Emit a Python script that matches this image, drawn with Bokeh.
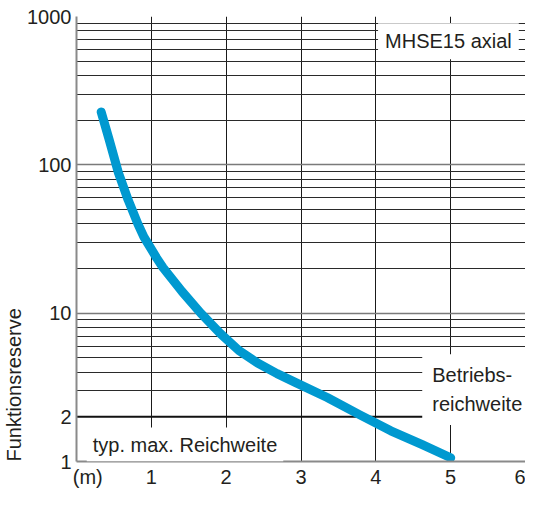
from bokeh.plotting import figure
from bokeh.models import FixedTicker, Label, Span, Title
from bokeh.embed import file_html
from bokeh.resources import INLINE

# ---- data ----
distance_m = [0.33, 0.435, 0.56, 0.69, 0.82, 0.90, 1.07, 1.155, 1.41, 1.66,
              1.92, 2.17, 2.42, 2.68, 2.93, 3.35, 3.78, 4.2, 4.62, 5.0]
funktionsreserve = [227, 149, 88.5, 58, 40, 32.7, 23.6, 20.3, 14.0, 10.0,
                    7.31, 5.6, 4.61, 3.91, 3.40, 2.70, 2.07, 1.61, 1.30, 1.06]

x_ticks = [0.15, 1, 2, 3, 4, 5, 6]          # first position carries the unit
x_tick_labels = ["(m)", "1", "2", "3", "4", "5", "6"]
x_grid = [1, 2, 3, 4, 5]
y_ticks = [1, 2, 10, 100, 1000]
y_tick_labels = ["1", "2", "10", "100", "1000"]
y_major_grid = [10, 100, 1000]
y_minor_grid = [3, 4, 5, 6, 7, 8, 9,
                20, 30, 40, 50, 60, 70, 80, 90,
                200, 300, 400, 500, 600, 700, 800, 900]
threshold = 2

FONT = "Liberation Sans"
TXT = "#231f20"

p = figure(width=525, height=490, x_range=(0, 6), y_range=(1, 1000),
           y_axis_type="log", output_backend="svg", toolbar_location=None,
           min_border_left=0, min_border_right=0, min_border_top=16,
           min_border_bottom=0)
p.outline_line_color = None
p.background_fill_color = "white"

# axes
for ax in (p.xaxis, p.yaxis):
    ax.axis_line_color = "#8a8a8a"
    ax.axis_line_width = 2
    ax.major_tick_line_color = None
    ax.minor_tick_line_color = None
    ax.major_tick_out = 0
    ax.major_tick_in = 0
    ax.major_label_text_font = FONT
    ax.major_label_text_font_size = "20px"
    ax.major_label_text_color = TXT

p.xaxis.ticker = FixedTicker(ticks=x_ticks)
p.xaxis.major_label_overrides = {t: l for t, l in zip(x_ticks, x_tick_labels)}
p.xaxis.major_label_standoff = 4
p.yaxis.ticker = FixedTicker(ticks=y_ticks)
p.yaxis.major_label_overrides = {t: l for t, l in zip(y_ticks, y_tick_labels)}
p.yaxis.major_label_standoff = 5

# vertical axis title, running up from the bottom
p.add_layout(Title(text="Funktionsreserve", align="left", standoff=0,
                   text_font=FONT, text_font_size="20px",
                   text_font_style="normal", text_color=TXT), "left")

# grids
p.xgrid.ticker = FixedTicker(ticks=x_grid)
p.xgrid.grid_line_color = "#1a1a1a"
p.xgrid.grid_line_width = 1
p.ygrid.ticker = FixedTicker(ticks=y_major_grid, minor_ticks=y_minor_grid)
p.ygrid.grid_line_color = "#7a7a7a"
p.ygrid.grid_line_width = 1.6
p.ygrid.minor_grid_line_color = "#2a2a2a"
p.ygrid.minor_grid_line_width = 1

p.add_layout(Span(location=threshold, dimension="width", line_color="#111111",
                  line_width=2, level="underlay"))

# curve
p.line(distance_m, funktionsreserve, line_width=9, line_color="#0099d0",
       line_cap="round", line_join="round")

# text boxes
p.add_layout(Label(x=4.97, y=680, text="MHSE15 axial", text_align="center",
                   text_baseline="middle", text_font=FONT,
                   text_font_size="20px", text_color=TXT,
                   background_fill_color="white", padding=7))
p.add_layout(Label(x=4.62, y=3.05, text="Betriebs-\nreichweite",
                   text_align="left", text_baseline="middle", text_font=FONT,
                   text_font_size="20px", text_color=TXT,
                   text_line_height=1.3,
                   background_fill_color="white", padding=10))
p.add_layout(Label(x=1.45, y=1.3, text="typ. max. Reichweite",
                   text_align="center", text_baseline="middle", text_font=FONT,
                   text_font_size="20px", text_color=TXT,
                   background_fill_color="white", padding=6))

open("out.html", "w").write(file_html(p, INLINE))
